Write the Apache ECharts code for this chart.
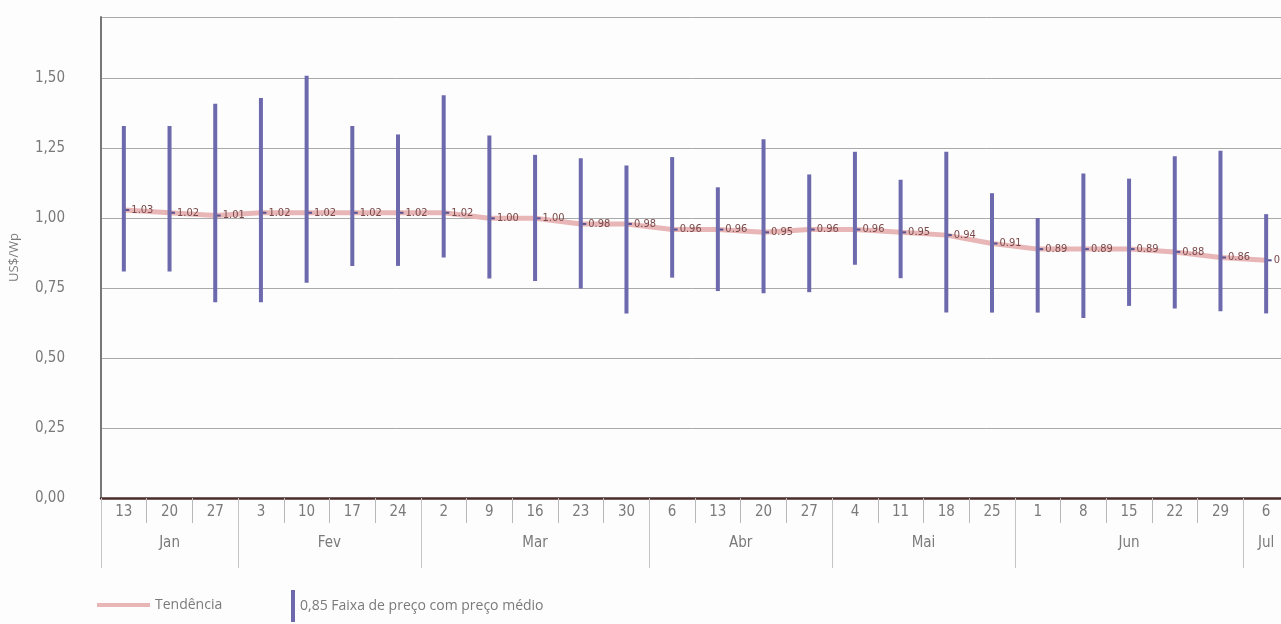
<!DOCTYPE html>
<html>
<head>
<meta charset="utf-8">
<script src="https://cdn.jsdelivr.net/npm/echarts@6/dist/echarts.min.js"></script>
<style>
  html, body { margin: 0; padding: 0; background: #fdfdfd; overflow: hidden; }
  #chart { width: 1281px; height: 624px; }
</style>
</head>
<body>
<div id="chart"></div>
<script>
// semanas (dia) e meses
let dias = ['13', '20', '27', '3', '10', '17', '24', '2', '9', '16', '23', '30', '6', '13', '20', '27', '4', '11', '18', '25', '1', '8', '15', '22', '29', '6'];
let meses = ['Jan', 'Fev', 'Mar', 'Abr', 'Mai', 'Jun', 'Jul'];
let semanasPorMes = [3, 4, 5, 4, 4, 5, 1];

// faixa de preço (US$/Wp)
let minimo = [0.81, 0.81, 0.70, 0.70, 0.77, 0.83, 0.83, 0.86, 0.785, 0.776, 0.749, 0.66, 0.788, 0.74, 0.732, 0.736, 0.834, 0.786, 0.663, 0.663, 0.663, 0.644, 0.687, 0.678, 0.668, 0.66];
let maximo = [1.33, 1.33, 1.41, 1.43, 1.51, 1.33, 1.30, 1.44, 1.296, 1.227, 1.215, 1.189, 1.219, 1.111, 1.283, 1.157, 1.238, 1.138, 1.238, 1.09, 1.001, 1.16, 1.142, 1.222, 1.242, 1.015];

// tendência (preço médio)
let tendencia = [1.03, 1.02, 1.01, 1.02, 1.02, 1.02, 1.02, 1.02, 1.00, 1.00, 0.98, 0.98, 0.96, 0.96, 0.95, 0.96, 0.96, 0.95, 0.94, 0.91, 0.89, 0.89, 0.89, 0.88, 0.86, 0.85];

let yTicks = [0, 0.25, 0.5, 0.75, 1.0, 1.25, 1.5];

let nomeFaixa = '0,85 Faixa de preço com preço médio';
let corBarra = '#6c69ad';
let corTend = '#e8b6b6';
let cinza = '#7a7a7a';
let fonteNum = "'Liberation Sans Narrow', 'DejaVu Sans Condensed', 'Liberation Sans', sans-serif";

// inicio e centro de cada mes (em semanas)
let inicioMes = [];
let centroMes = {};
let acc = 0;
semanasPorMes.forEach((n, i) => {
  inicioMes.push(acc);
  centroMes[(acc + n / 2).toFixed(1)] = meses[i];
  acc += n;
});

let amplitude = maximo.map((h, i) => +(h - minimo[i]).toFixed(3));

let chart = echarts.init(document.getElementById('chart'));

chart.setOption({
  backgroundColor: '#fdfdfd',
  animation: false,
  grid: { left: 101, right: -8, top: 17, bottom: 126, containLabel: false, outerBoundsMode: 'none' },
  legend: [
    {
      left: 97, top: 598, padding: 0,
      itemWidth: 53, itemHeight: 4,
      textStyle: { color: cinza, fontSize: 14, fontFamily: "'Open Sans', sans-serif" },
      data: [{ name: 'Tendência', icon: 'rect', itemStyle: { color: corTend } }]
    },
    {
      left: 291, top: 590, padding: 0,
      itemWidth: 4, itemHeight: 32,
      textStyle: { color: cinza, fontSize: 14, fontFamily: "'Open Sans', sans-serif" },
      data: [{ name: nomeFaixa, icon: 'rect', itemStyle: { color: corBarra } }]
    }
  ],
  xAxis: [
    {
      type: 'category',
      data: dias,
      position: 'bottom',
      boundaryGap: true,
      axisLine: { show: true, lineStyle: { color: '#4a2c2c', width: 2.5 } },
      axisTick: { show: true, interval: 0, length: 25, lineStyle: { color: '#b8b8b8' } },
      axisLabel: { interval: 0, margin: 7, color: cinza, fontSize: 15, fontFamily: fonteNum }
    },
    {
      type: 'category',
      data: dias,
      position: 'bottom',
      boundaryGap: true,
      axisLine: { show: false },
      axisTick: {
        show: true, length: 70,
        interval: (i) => inicioMes.indexOf(i) >= 0,
        lineStyle: { color: '#c4c4c4' }
      },
      axisLabel: { show: false }
    },
    {
      type: 'value',
      min: 0, max: dias.length, interval: 0.5,
      position: 'bottom',
      offset: 30,
      axisLine: { show: false },
      axisTick: { show: false },
      splitLine: { show: false },
      axisLabel: {
        margin: 8, color: cinza, fontSize: 15, fontFamily: fonteNum,
        formatter: (v) => centroMes[v.toFixed(1)] || ''
      }
    }
  ],
  yAxis: {
    type: 'value',
    min: 0, max: 1.72, interval: 0.25,
    name: 'US$/Wp',
    nameLocation: 'middle',
    nameGap: 80,
    nameTextStyle: { color: cinza, fontSize: 13, fontFamily: "'Open Sans', sans-serif" },
    axisLine: { show: true, lineStyle: { color: '#777', width: 2 } },
    axisTick: { show: false },
    axisLabel: {
      margin: 36, color: cinza, fontSize: 15, fontFamily: fonteNum,
      formatter: (v) => yTicks.some((t) => Math.abs(t - v) < 1e-6) ? v.toFixed(2).replace('.', ',') : ''
    },
    splitLine: { show: true, lineStyle: { color: '#a9a9a9', width: 1 } }
  },
  series: [
    {
      name: 'Tendência',
      type: 'line',
      data: tendencia,
      z: 1,
      symbol: 'rect',
      symbolSize: [5, 2],
      symbolOffset: [3, 0],
      itemStyle: { color: '#5a5490' },
      lineStyle: { color: corTend, width: 5 },
      label: {
        show: true, position: 'right', distance: 2,
        color: '#7a4a4a', fontSize: 11, fontFamily: fonteNum,
        formatter: (p) => p.value.toFixed(2)
      }
    },
    {
      name: 'base',
      type: 'bar',
      stack: 'faixa',
      data: minimo,
      barWidth: 4,
      itemStyle: { color: 'transparent' },
      silent: true,
      z: 2
    },
    {
      name: nomeFaixa,
      type: 'bar',
      stack: 'faixa',
      data: amplitude,
      barWidth: 4,
      itemStyle: { color: corBarra },
      z: 2
    }
  ]
});
</script>
</body>
</html>
